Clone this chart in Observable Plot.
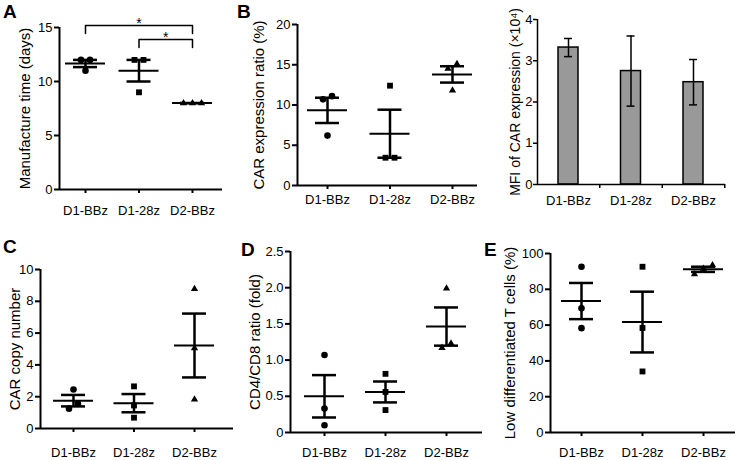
<!DOCTYPE html>
<html><head><meta charset="utf-8">
<script src="https://cdn.jsdelivr.net/npm/d3@7"></script>
<script src="https://cdn.jsdelivr.net/npm/@observablehq/plot@0.6"></script>
<style>
body{margin:0;background:#fff;}
#fig{position:relative;width:737px;height:460px;overflow:hidden;background:#fff;font-family:"Liberation Sans",Arial,sans-serif;}
#fig svg{position:absolute;left:0;top:0;}
.letter{position:absolute;font-weight:bold;font-size:19px;line-height:1;color:#000;}
</style></head><body><div id="fig"></div>
<script>
// ---- data ----
const groups = ["D1-BBz", "D1-28z", "D2-BBz"];
const symbols = ["circle", "square", "triangle"];
const manufactureDays = [[12, 12, 11], [12, 12, 9], [8, 8, 8]];
const carRatio = [[11.1, 10.7, 6.2], [12.4, 3.45, 3.45], [15.1, 14.5, 11.8]];
const mfiMean = [3.32, 2.75, 2.48];
const mfiErr = [0.22, 0.85, 0.55];
const copyNumber = [[2.45, 1.55, 1.25], [2.65, 1.45, 0.68], [8.78, 5.05, 1.83]];
const cd4cd8 = [[1.07, 0.33, 0.10], [0.81, 0.56, 0.31], [1.99, 1.23, 1.17]];
const lowDiff = [[92.6, 69.4, 58.3], [92.6, 58.4, 34.1], [93.5, 91.5, 88.5]];
const significanceA = [[0, 2, "*"], [1, 2, "*"]];
const ticksA = [0, 5, 10, 15];
const ticksB = [0, 5, 10, 15, 20];
const ticksMFI = [0, 1, 2, 3, 4];
const ticksC = [0, 2, 4, 6, 8, 10];
const ticksD = [0, 0.5, 1.0, 1.5, 2.0, 2.5];
const ticksE = [0, 20, 40, 60, 80, 100];
const titles = {
  A: "Manufacture time (days)",
  B: "CAR expression ratio (%)",
  MFI: "MFI of CAR expression (×10⁴)",
  C: "CAR copy number",
  D: "CD4/CD8 ratio (fold)",
  E: "Low differentiated T cells (%)"
};
const letters = ["A", "B", "C", "D", "E"];

// ---- layout (pixel frame of each panel) ----
const W = 737, H = 460;
const FONT = '"Liberation Sans", Arial, sans-serif';
const layout = {
  A:   {axisX: 59,  cat1: 85,  cat3: 192, endX: 222, y0: 189, yTop: 27,  titleX: 25,  labelGap: 16},
  B:   {axisX: 297, cat1: 327, cat3: 452, endX: 477, y0: 185, yTop: 24,  titleX: 259, labelGap: 9.5},
  MFI: {axisX: 537, cat1: 568, cat3: 693, endX: 725, y0: 184, yTop: 19,  titleX: 515, labelGap: 11},
  C:   {axisX: 40,  cat1: 73,  cat3: 194, endX: 233, y0: 428, yTop: 269, titleX: 15,  labelGap: 19},
  D:   {axisX: 290, cat1: 324, cat3: 446, endX: 482, y0: 432, yTop: 251, titleX: 255, labelGap: 15},
  E:   {axisX: 550, cat1: 581, cat3: 703, endX: 735, y0: 432, yTop: 253, titleX: 510, labelGap: 15}
};
const letterPos = {A: [3, 2], B: [237, 2], C: [3, 237], D: [241, 240], E: [484, 240]};

const fig = document.getElementById("fig");

function frameOf(cfg, yDomain) {
  const spacing = (cfg.cat3 - cfg.cat1) / 2;
  const xDomain = [1 - (cfg.cat1 - cfg.axisX) / spacing, 3 + (cfg.endX - cfg.cat3) / spacing];
  const pxPerY = (cfg.y0 - cfg.yTop) / (yDomain[1] - yDomain[0]);
  return {spacing, xDomain, pxPerY};
}

function render(cfg, yDomain, marks) {
  const f = frameOf(cfg, yDomain);
  const svg = Plot.plot({
    width: W, height: H,
    marginLeft: cfg.axisX, marginRight: W - cfg.endX,
    marginTop: cfg.yTop, marginBottom: H - cfg.y0,
    x: {type: "linear", domain: f.xDomain, axis: null, label: null},
    y: {type: "linear", domain: yDomain, axis: null, label: null},
    symbol: {domain: groups, range: symbols},
    style: {background: "transparent", fontFamily: FONT, fontSize: "13px", color: "black", overflow: "visible"},
    marks
  });
  fig.appendChild(svg);
}

function titleMark(cfg, text, size) {
  return Plot.text([text], {frameAnchor: "left", textAnchor: "middle", lineAnchor: "middle", dx: cfg.titleX - cfg.axisX, rotate: -90, fontSize: size});
}

function scatterPanel(key, values, yDomain, yTicks, yFormat, extra) {
  const cfg = layout[key];
  const f = frameOf(cfg, yDomain);
  const pts = [];
  values.forEach((vals, gi) => {
    const sorted = vals.map(v => v).sort((a, b) => a - b);
    const clusters = [];
    let cur = [sorted[0]];
    for (let m = 1; m < sorted.length; m++) {
      if ((sorted[m] - sorted[m - 1]) * f.pxPerY < 6) cur.push(sorted[m]);
      else { clusters.push(cur); cur = [sorted[m]]; }
    }
    clusters.push(cur);
    clusters.forEach(c => c.forEach((v, idx) => {
      pts.push({group: groups[gi], i: gi + 1, v, off: (idx - (c.length - 1) / 2) * 9 / f.spacing});
    }));
  });
  const stats = values.map((vals, gi) => {
    const m = d3.mean(vals), se = d3.deviation(vals) / Math.sqrt(vals.length);
    return {i: gi + 1, mean: m, lo: m - se, hi: m + se};
  });
  const mh = 20 / f.spacing, ch = 12 / f.spacing;
  const dotOpts = {x: d => d.i + d.off, y: "v", symbol: "group", fill: "black"};
  const marks = [
    Plot.ruleX([f.xDomain[0]], {y1: () => yDomain[0], y2: () => yDomain[1], strokeWidth: 2}),
    Plot.ruleY([yDomain[0]], {x1: () => f.xDomain[0], x2: () => f.xDomain[1], strokeWidth: 2}),
    Plot.axisY(yTicks, {tickSize: 5, tickPadding: 2, strokeWidth: 2, tickFormat: yFormat, label: null}),
    Plot.axisX([1, 2, 3], {tickSize: 4, tickPadding: cfg.labelGap - 4, strokeWidth: 2, tickFormat: i => groups[i - 1], label: null}),
    titleMark(cfg, titles[key], 15),
    Plot.dot(pts.filter(d => d.group !== groups[2]), {...dotOpts, r: 3.3}),
    Plot.dot(pts.filter(d => d.group === groups[2]), {...dotOpts, r: 2.7}),
    Plot.ruleY(stats, {y: "mean", x1: d => d.i - mh, x2: d => d.i + mh, strokeWidth: 2}),
    Plot.ruleX(stats, {x: "i", y1: "lo", y2: "hi", strokeWidth: 2.5}),
    Plot.ruleY(stats, {y: "hi", x1: d => d.i - ch, x2: d => d.i + ch, strokeWidth: 2.5}),
    Plot.ruleY(stats, {y: "lo", x1: d => d.i - ch, x2: d => d.i + ch, strokeWidth: 2.5})
  ];
  if (extra) marks.push(...extra(f));
  render(cfg, yDomain, marks);
}

// Panel A with significance brackets
scatterPanel("A", manufactureDays, [0, 15], ticksA, d => String(d), f => {
  const top = 15 + 2 / f.pxPerY, step = 14 / f.pxPerY, leg = 8 / f.pxPerY;
  const path = [], stars = [];
  significanceA.forEach(([a, b, label], k) => {
    const y = top - k * step;
    path.push({k, x: a + 1, y: y - leg}, {k, x: a + 1, y}, {k, x: b + 1, y}, {k, x: b + 1, y: y - leg});
    stars.push({x: (a + b) / 2 + 1, y, label});
  });
  return [
    Plot.line(path, {x: "x", y: "y", z: "k", strokeWidth: 1.5}),
    Plot.text(stars, {x: "x", y: "y", text: "label", dy: -1.5, fontSize: 14})
  ];
});
scatterPanel("B", carRatio, [0, 20], ticksB, d => String(d));
scatterPanel("C", copyNumber, [0, 10], ticksC, d => String(d));
scatterPanel("D", cd4cd8, [0, 2.5], ticksD, d => d === 0 ? "0" : d.toFixed(1));
scatterPanel("E", lowDiff, [0, 100], ticksE, d => String(d));

// MFI bar panel
(function () {
  const cfg = layout.MFI, yDomain = [0, 4];
  const f = frameOf(cfg, yDomain);
  const bars = groups.map((g, k) => ({i: k + 1, mean: mfiMean[k], err: mfiErr[k]}));
  const bw = 10 / f.spacing, cw = 4 / f.spacing;
  render(cfg, yDomain, [
    Plot.rect(bars, {x1: d => d.i - bw, x2: d => d.i + bw, y1: () => 0, y2: "mean", fill: "#999999", stroke: "black", strokeWidth: 1.5}),
    Plot.ruleX(bars, {x: "i", y1: d => d.mean - d.err, y2: d => d.mean + d.err, strokeWidth: 1.5}),
    Plot.ruleY(bars, {y: d => d.mean + d.err, x1: d => d.i - cw, x2: d => d.i + cw, strokeWidth: 1.5}),
    Plot.ruleY(bars, {y: d => d.mean - d.err, x1: d => d.i - cw, x2: d => d.i + cw, strokeWidth: 1.5}),
    Plot.ruleX([f.xDomain[0]], {y1: () => 0, y2: () => 4, strokeWidth: 1.5}),
    Plot.ruleY([0], {x1: () => f.xDomain[0], x2: () => f.xDomain[1], strokeWidth: 1.5}),
    Plot.axisY(ticksMFI, {tickSize: 4, tickPadding: 1, strokeWidth: 1.5, tickFormat: d => String(d), label: null}),
    Plot.axisX([1.5, 2.5, 3.5], {tickSize: 4, strokeWidth: 1.5, tickFormat: () => "", label: null}),
    Plot.axisX([1, 2, 3], {tickSize: 0, tickPadding: cfg.labelGap, tickFormat: i => groups[i - 1], label: null}),
    titleMark(cfg, titles.MFI, 14)
  ]);
})();

// Panel letters
letters.forEach(L => {
  const d = document.createElement("div");
  d.className = "letter";
  d.textContent = L;
  d.style.left = letterPos[L][0] + "px";
  d.style.top = letterPos[L][1] + "px";
  fig.appendChild(d);
});
</script></body></html>
